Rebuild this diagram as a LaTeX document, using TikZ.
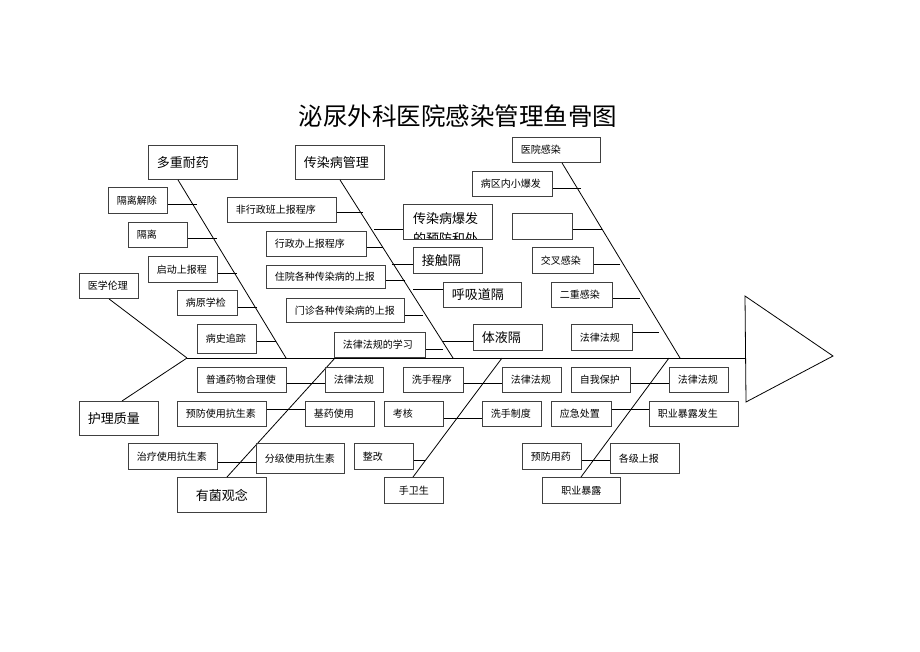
\documentclass[tikz,border=0pt]{standalone}
\usepackage{fontspec}
\setmainfont{Noto Sans CJK SC}
\newcommand\szs{\fontsize{10}{12}\selectfont}
\newcommand\szm{\fontsize{13}{15}\selectfont}
\newcommand\szt{\fontsize{24.5}{28}\selectfont}
\tikzset{
  bx/.style={draw=black!75, line width=0.9pt, anchor=north west, inner xsep=8.5pt, inner ysep=0pt, align=left},
  bxc/.style={bx, align=center},
  ln/.style={draw=black, line width=0.8pt},
  sm/.style={font=\szs},
  md/.style={font=\szm},
}
\begin{document}
\begin{tikzpicture}[x=1pt,y=-1pt]
\useasboundingbox (0,0) rectangle (920,651);
\fill[white] (0,0) rectangle (920,651);

% title
\node[font=\szt] (title) at (458,116) {泌尿外科医院感染管理鱼骨图};

% spine and head
\coordinate (tail) at (187,358);
\coordinate (t1) at (745,296);
\coordinate (t2) at (833,356);
\coordinate (t3) at (746,402);
\coordinate (head) at (745,358);
\draw[ln] (tail) -- (head);
\draw[ln] (t1) -- (t2) -- (t3) -- cycle;

% bone ends on spine
\coordinate (b1) at (286,358);
\coordinate (b2) at (453,358);
\coordinate (b3) at (680,358);
\coordinate (b4) at (335,358);
\coordinate (b5) at (502,358);
\coordinate (b6) at (669,358);

% main category boxes
\node[bx,md,minimum width=89pt,minimum height=34pt,text width=72pt] (dcny) at (148,145) {多重耐药};
\node[bx,md,minimum width=89pt,minimum height=34pt,text width=72pt] (crbgl) at (295,145) {传染病管理};
\node[bx,sm,minimum width=88pt,minimum height=25pt,text width=71pt] (yygr) at (512,137) {医院感染};
\node[bx,sm,minimum width=59pt,minimum height=25pt,text width=42pt] (yxll) at (79,273) {医学伦理};
\node[bx,md,minimum width=79pt,minimum height=34pt,text width=62pt] (hlzl) at (79,401) {护理质量};
\node[bxc,md,minimum width=89pt,minimum height=35pt,text width=72pt] (yjgn) at (177,477) {有菌观念};
\node[bxc,sm,minimum width=59pt,minimum height=26pt,text width=42pt] (sws) at (384,477) {手卫生};
\node[bxc,sm,minimum width=78pt,minimum height=26pt,text width=61pt] (zybl) at (542,477) {职业暴露};

% bones
\draw[ln] ([xshift=30pt]dcny.south west) -- (b1);
\draw[ln] ([xshift=45pt]crbgl.south west) -- (b2);
\draw[ln] ([xshift=50pt]yygr.south west) -- (b3);
\draw[ln] ([xshift=30pt]yxll.south west) -- (tail);
\draw[ln] ([xshift=43pt]hlzl.north west) -- (tail);
\draw[ln] ([xshift=50pt]yjgn.north west) -- (b4);
\draw[ln] ([xshift=29pt]sws.north west) -- (b5);
\draw[ln] ([xshift=39pt]zybl.north west) -- (b6);

% 多重耐药 sub-causes
\node[bx,sm,minimum width=59pt,minimum height=26pt,text width=42pt] (glj) at (108,187) {隔离解除};
\node[bx,sm,minimum width=59pt,minimum height=25pt,text width=42pt] (gl) at (128,222) {隔离};
\node[bx,sm,minimum width=69pt,minimum height=26pt,text width=52pt] (qdsbc) at (148,256) {启动上报程};
\node[bx,sm,minimum width=60pt,minimum height=25pt,text width=43pt] (byxj) at (177,290) {病原学检};
\node[bx,sm,minimum width=59pt,minimum height=29pt,text width=42pt] (bszz) at (197,324) {病史追踪};
\coordinate (s-glj) at (197,204);
\coordinate (s-gl) at (217,238);
\coordinate (s-qdsbc) at (237,273);
\coordinate (s-byxj) at (257,307);
\coordinate (s-bszz) at (276,341);
\foreach \n in {glj,gl,qdsbc,byxj,bszz}{\draw[ln] (s-\n) -- (s-\n -| \n.east);}

% 传染病管理 sub-causes (left)
\node[bx,sm,minimum width=109pt,minimum height=25pt,text width=92pt] (fxz) at (227,197) {非行政班上报程序};
\node[bx,sm,minimum width=100pt,minimum height=25pt,text width=83pt] (xzb) at (266,231) {行政办上报程序};
\node[bx,sm,minimum width=119pt,minimum height=23pt,text width=102pt] (zy) at (266,265) {住院各种传染病的上报};
\node[bx,sm,minimum width=118pt,minimum height=24pt,text width=101pt] (mz) at (286,298) {门诊各种传染病的上报};
\node[bx,sm,minimum width=91pt,minimum height=25pt,text width=74pt] (flfgxx) at (334,332) {法律法规的学习};
\coordinate (s-fxz) at (363,212);
\coordinate (s-xzb) at (383,247);
\coordinate (s-zy) at (405,280);
\coordinate (s-mz) at (423,315);
\coordinate (s-flfgxx) at (443,349);
\foreach \n in {fxz,xzb,zy,mz,flfgxx}{\draw[ln] (s-\n) -- (s-\n -| \n.east);}

% 传染病管理 sub-causes (right)
\begin{scope}
  \clip (403,204) rectangle (492,239);
  \node[anchor=north west,inner sep=0pt,align=left,font=\fontsize{13}{20}\selectfont] (crbbftext) at (413,212) {传染病爆发\\的预防和处};
\end{scope}
\node[bx,minimum width=89pt,minimum height=35pt] (crbbf) at (403,204) {};
\node[bx,md,minimum width=69pt,minimum height=26pt,text width=52pt] (jcg) at (413,247) {接触隔};
\node[bx,md,minimum width=78pt,minimum height=25pt,text width=61pt] (hxdg) at (443,282) {呼吸道隔};
\node[bx,md,minimum width=69pt,minimum height=26pt,text width=52pt] (tyg) at (473,324) {体液隔};
\coordinate (s-crbbf) at (374,229);
\coordinate (s-jcg) at (392,264);
\coordinate (s-hxdg) at (413,289);
\coordinate (s-tyg) at (443,341);
\foreach \n in {crbbf,jcg,hxdg,tyg}{\draw[ln] (s-\n) -- (s-\n -| \n.west);}

% 医院感染 sub-causes
\node[bx,sm,minimum width=80pt,minimum height=25pt,text width=63pt] (bqn) at (472,171) {病区内小爆发};
\node[bx,sm,minimum width=60pt,minimum height=26pt,text width=43pt] (empty) at (512,213) {};
\node[bx,sm,minimum width=61pt,minimum height=26pt,text width=44pt] (jcgr) at (532,247) {交叉感染};
\node[bx,sm,minimum width=61pt,minimum height=25pt,text width=44pt] (ecgr) at (551,282) {二重感染};
\node[bx,sm,minimum width=61pt,minimum height=26pt,text width=44pt] (flfga) at (571,324) {法律法规};
\coordinate (s-bqn) at (581,188);
\coordinate (s-empty) at (602,229);
\coordinate (s-jcgr) at (620,264);
\coordinate (s-ecgr) at (640,298);
\coordinate (s-flfga) at (659,332);
\foreach \n in {bqn,empty,jcgr,ecgr,flfga}{\draw[ln] (s-\n) -- (s-\n -| \n.east);}

% 有菌观念 sub-causes
\node[bx,sm,minimum width=89pt,minimum height=25pt,text width=72pt] (ptyw) at (197,367) {普通药物合理使};
\node[bx,sm,minimum width=58pt,minimum height=25pt,text width=41pt] (flfgb) at (325,367) {法律法规};
\node[bx,sm,minimum width=89pt,minimum height=25pt,text width=72pt] (yfsy) at (177,401) {预防使用抗生素};
\node[bx,sm,minimum width=69pt,minimum height=25pt,text width=52pt] (jysy) at (305,401) {基药使用};
\node[bx,sm,minimum width=89pt,minimum height=26pt,text width=72pt] (zlsy) at (128,443) {治疗使用抗生素};
\node[bx,sm,minimum width=88pt,minimum height=30pt,text width=71pt] (fjsy) at (256,443) {分级使用抗生素};
\draw[ln] ([yshift=-3.5pt]ptyw.east) -- ([yshift=-3.5pt]flfgb.west);
\draw[ln] ([yshift=4.5pt]yfsy.east) -- ([yshift=4.5pt]jysy.west);
\draw[ln] ([yshift=-6pt]zlsy.east) -- ([yshift=-4pt]fjsy.west);

% 手卫生 sub-causes
\node[bx,sm,minimum width=60pt,minimum height=25pt,text width=43pt] (xscx) at (403,367) {洗手程序};
\node[bx,sm,minimum width=59pt,minimum height=25pt,text width=42pt] (flfgc) at (502,367) {法律法规};
\node[bx,sm,minimum width=59pt,minimum height=25pt,text width=42pt] (kh) at (384,401) {考核};
\node[bx,sm,minimum width=59pt,minimum height=25pt,text width=42pt] (xszd) at (482,401) {洗手制度};
\node[bx,sm,minimum width=59pt,minimum height=26pt,text width=42pt] (zg) at (354,443) {整改};
\draw[ln] ([yshift=-3.5pt]xscx.east) -- ([yshift=-3.5pt]flfgc.west);
\draw[ln] ([yshift=-4.5pt]kh.east) -- ([yshift=-4.5pt]xszd.west);
\coordinate (s-zg) at (425,460);
\draw[ln] (s-zg) -- (s-zg -| zg.east);

% 职业暴露 sub-causes
\node[bx,sm,minimum width=59pt,minimum height=25pt,text width=42pt] (zwbh) at (571,367) {自我保护};
\node[bx,sm,minimum width=59pt,minimum height=25pt,text width=42pt] (flfgd) at (669,367) {法律法规};
\node[bx,sm,minimum width=60pt,minimum height=25pt,text width=43pt] (yjcz) at (551,401) {应急处置};
\node[bx,sm,minimum width=89pt,minimum height=25pt,text width=72pt] (zyblfs) at (649,401) {职业暴露发生};
\node[bx,sm,minimum width=59pt,minimum height=26pt,text width=42pt] (yfyy) at (522,443) {预防用药};
\node[bx,sm,minimum width=69pt,minimum height=30pt,text width=52pt] (gjsb) at (610,443) {各级上报};
\draw[ln] ([yshift=-3.5pt]zwbh.east) -- ([yshift=-3.5pt]flfgd.west);
\draw[ln] ([yshift=4.5pt]yjcz.east) -- ([yshift=4.5pt]zyblfs.west);
\draw[ln] ([yshift=-4pt]yfyy.east) -- ([yshift=-2pt]gjsb.west);
\end{tikzpicture}
\end{document}
